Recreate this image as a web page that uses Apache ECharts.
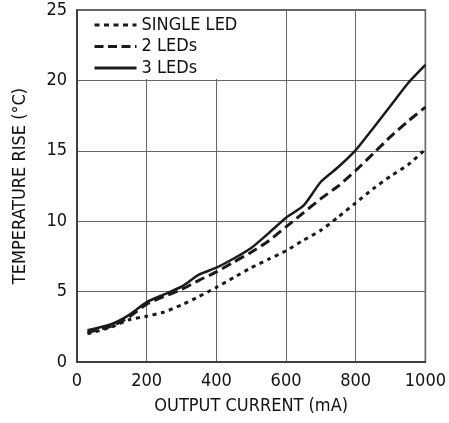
<!DOCTYPE html>
<html><head><meta charset="utf-8">
<script src="https://cdn.jsdelivr.net/npm/echarts@6/dist/echarts.min.js"></script>
<style>html,body{margin:0;padding:0;background:#fff}#c{width:449px;height:423px}</style>
</head><body><div id="c"></div>
<script>
const currentMA = [30, 100, 150, 200, 250, 300, 350, 400, 450, 500, 550, 600, 650, 700, 750, 800, 850, 900, 950, 1000];
const singleLED = [2.0, 2.5, 3.0, 3.25, 3.55, 4.05, 4.65, 5.3, 6.0, 6.7, 7.3, 7.9, 8.65, 9.35, 10.3, 11.3, 12.3, 13.2, 14.0, 15.1];
const twoLEDs   = [2.1, 2.55, 3.2, 4.1, 4.65, 5.15, 5.8, 6.4, 7.1, 7.8, 8.6, 9.6, 10.6, 11.6, 12.5, 13.6, 14.8, 16.0, 17.1, 18.1];
const threeLEDs = [2.25, 2.7, 3.35, 4.25, 4.8, 5.35, 6.2, 6.7, 7.35, 8.1, 9.15, 10.25, 11.1, 12.8, 13.85, 15.05, 16.6, 18.2, 19.8, 21.1];
const xTicks = [0, 200, 400, 600, 800, 1000];
const yTicks = [0, 5, 10, 15, 20, 25];
const seriesNames = ['SINGLE LED', '2 LEDs', '3 LEDs'];

const FONT = '"Liberation Sans Narrow", "DejaVu Sans Condensed", "Liberation Sans", sans-serif';
const pairs = arr => currentMA.map((x, i) => [x, arr[i]]);
const legendDash = [[5, 4.5], [9, 4.5], 'solid'];

const chart = echarts.init(document.getElementById('c'), null, {renderer: 'canvas'});
chart.setOption({
  animation: false,
  backgroundColor: '#fff',
  textStyle: {fontFamily: FONT, color: '#111'},
  grid: {left: 77, right: 21, top: 10, bottom: 61, show: true, borderColor: '#333', borderWidth: 1.5, backgroundColor: 'transparent'},
  legend: {
    orient: 'vertical', left: 78, top: 11,
    padding: [4, 10, 1, 15],
    backgroundColor: '#fff',
    itemWidth: 42, itemHeight: 14, itemGap: 1.5, itemStyle: {opacity: 0},
    textStyle: {fontFamily: FONT, fontSize: 18, color: '#111', lineHeight: 20},
    data: seriesNames.map((n, i) => ({name: n, lineStyle: {width: 3, type: legendDash[i], color: '#1a1a1a'}}))
  },
  xAxis: {
    type: 'value', min: 0, max: 1000, interval: 200,
    name: 'OUTPUT CURRENT (mA)', nameLocation: 'middle', nameGap: 35,
    nameTextStyle: {fontFamily: FONT, fontSize: 18, color: '#111'},
    axisLine: {show: true, lineStyle: {color: '#333', width: 1.5}},
    axisTick: {show: false},
    axisLabel: {fontFamily: FONT, fontSize: 18, color: '#111', margin: 10,
      formatter: v => xTicks.includes(v) ? String(v) : ''},
    splitLine: {show: true, lineStyle: {color: '#666', width: 1}}
  },
  yAxis: {
    type: 'value', min: 0, max: 25, interval: 5,
    name: 'TEMPERATURE RISE (°C)', nameLocation: 'middle', nameGap: 48, nameRotate: 90,
    nameTextStyle: {fontFamily: FONT, fontSize: 18, color: '#111'},
    axisLine: {show: true, lineStyle: {color: '#333', width: 1.5}},
    axisTick: {show: false},
    axisLabel: {fontFamily: FONT, fontSize: 18, color: '#111', margin: 10,
      formatter: v => yTicks.includes(v) ? String(v) : ''},
    splitLine: {show: true, lineStyle: {color: '#666', width: 1}}
  },
  series: [
    {name: seriesNames[0], type: 'line', data: pairs(singleLED), symbol: 'none', smooth: 0.2,
     lineStyle: {color: '#1a1a1a', width: 3, type: [4, 4.5]}, itemStyle: {color: '#1a1a1a'}},
    {name: seriesNames[1], type: 'line', data: pairs(twoLEDs), symbol: 'none', smooth: 0.2,
     lineStyle: {color: '#1a1a1a', width: 3, type: [10, 5]}, itemStyle: {color: '#1a1a1a'}},
    {name: seriesNames[2], type: 'line', data: pairs(threeLEDs), symbol: 'none', smooth: 0.2,
     lineStyle: {color: '#1a1a1a', width: 2.5, type: 'solid'}, itemStyle: {color: '#1a1a1a'}}
  ]
});
</script></body></html>
